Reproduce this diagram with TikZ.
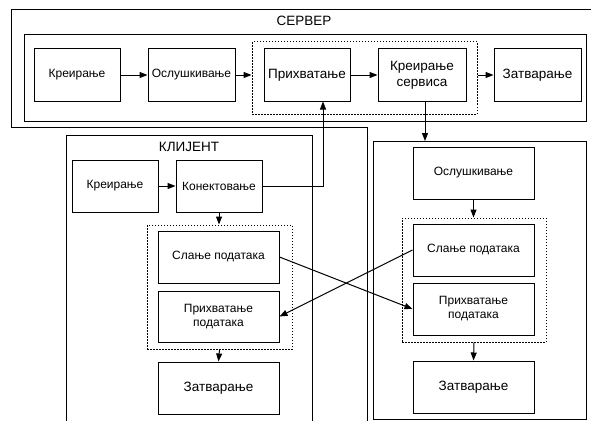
\documentclass[tikz,border=0pt]{standalone}
\usepackage{fontspec}
\setmainfont{Liberation Sans}
\usetikzlibrary{arrows.meta,calc}
\begin{document}
\begin{tikzpicture}[x=1pt,y=-1pt,
  box/.style={draw=black,line width=1pt,inner sep=0pt,align=center,font=\fontsize{12}{14}\selectfont},
  bigbox/.style={box,font=\fontsize{13.5}{16}\selectfont},
  frame/.style={draw=black,line width=1pt},
  dotbox/.style={draw=black,line width=1pt,dash pattern=on 1.5pt off 1.5pt},
  arr/.style={-{Triangle[length=8pt,width=6pt]},line width=1pt},
  ttl/.style={font=\fontsize{13.5}{16}\selectfont,inner sep=0pt}]
\useasboundingbox (0,0) rectangle (591,420);
\clip (0,0) rectangle (591,420);
% outer frames
\draw[frame] (600,10) -- (11,10) -- (11,127) -- (367,127) -- (367,430);
\draw[frame] (24,35) rectangle (586,121);
\draw[frame] (66,135) rectangle (312,430);
\draw[frame] (373,141) rectangle (586,419);
\node[ttl] (tS) at (304,21) {СЕРВЕР};
\node[ttl] (tC) at (189,147) {КЛИЈЕНТ};
% server row
\node[box,minimum width=86,minimum height=52] (sK) at (77,75) {Креирање};
\node[box,minimum width=87,minimum height=52] (sO) at (191.5,75) {Ослушкивање};
\node[bigbox,minimum width=86,minimum height=52] (sP) at (307,75) {Прихватање};
\node[bigbox,minimum width=88,minimum height=52] (sKS) at (422,75) {Креирање\\сервиса};
\node[bigbox,minimum width=87,minimum height=52] (sZ) at (537.5,75) {Затварање};
\node[dotbox,inner sep=0pt,minimum width=225,minimum height=72] (sD) at (364.5,78) {};
% client
\node[box,minimum width=86,minimum height=52] (cK) at (115,186) {Креирање};
\node[box,minimum width=86,minimum height=52] (cC) at (219,186) {Конектовање};
\node[dotbox,inner sep=0pt,minimum width=145,minimum height=124] (cD) at (219.5,287) {};
\node[box,minimum width=121,minimum height=52] (cS) at (218.5,257) {Слање података};
\node[box,minimum width=121,minimum height=51] (cP) at (218.5,316.5) {Прихватање\\података};
\node[bigbox,minimum width=121,minimum height=52] (cZ) at (218.5,388) {Затварање};
% right
\node[box,minimum width=121,minimum height=52] (rO) at (473.5,173) {Ослушкивање};
\node[dotbox,inner sep=0pt,minimum width=144,minimum height=124] (rD) at (474,280) {};
\node[box,minimum width=121,minimum height=52] (rS) at (473.5,250) {Слање података};
\node[box,minimum width=121,minimum height=52] (rP) at (473.5,309) {Прихватање\\података};
\node[bigbox,minimum width=121,minimum height=52] (rZ) at (473.5,387) {Затварање};
\coordinate (rTop) at (425,141);
% arrows
\draw[arr] (sK) -- (sO);
\draw[arr] (sO) -- (sD.west |- sO);
\draw[arr] (sP) -- (sKS);
\draw[arr] (sD.east |- sZ) -- (sZ);
\draw[arr] (sKS.south -| rTop) -- (rTop);
\draw[arr] (cK) -- (cC);
\draw[arr] (cC.east) -| ([xshift=16pt]sP.south);
\draw[arr] (cC.south) -- (cC.south |- cD.north);
\draw[arr] (cD.south) -- (cZ.north);
\draw[arr] (rO.south) -- (rO.south |- rD.north);
\draw[arr] (rD.south) -- (rZ.north);
\draw[arr] (cS.east) -- (rP.west);
\draw[arr] (rS.west) -- (cP.east);
\end{tikzpicture}
\end{document}
